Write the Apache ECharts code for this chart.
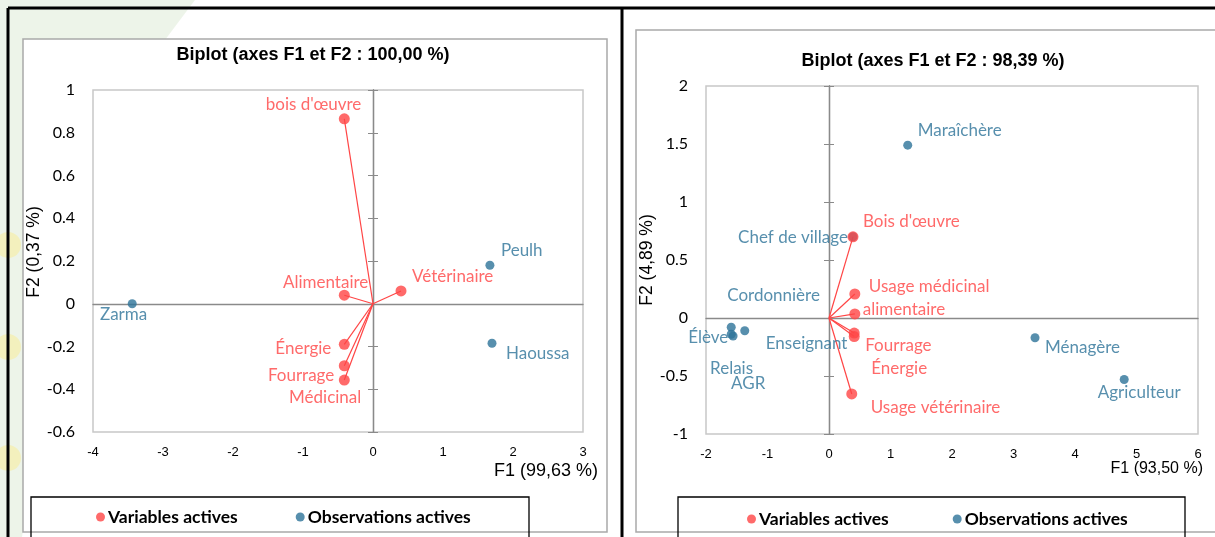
<!DOCTYPE html>
<html lang="fr">
<head>
<meta charset="UTF-8">
<title>Biplots</title>
<script src="https://cdn.jsdelivr.net/npm/echarts@6/dist/echarts.min.js"></script>
<style>
    html, body { margin: 0; padding: 0; background: #fff; }
    #main { width: 1215px; height: 537px; }
</style>
</head>
<body>
<div id="main"></div>
<script>
    // ---- left biplot: F1 99,63 % / F2 0,37 %
    var xTicksL = [-4, -3, -2, -1, 0, 1, 2, 3];
    var yTicksL = [-0.6, -0.4, -0.2, 0, 0.2, 0.4, 0.6, 0.8, 1];
    var varNamesL = ["bois d'œuvre", 'Alimentaire', 'Vétérinaire', 'Énergie', 'Fourrage', 'Médicinal'];
    var varF1L = [-0.41, -0.41, 0.40, -0.41, -0.41, -0.41];
    var varF2L = [0.865, 0.04, 0.06, -0.19, -0.29, -0.357];
    var obsNamesL = ['Zarma', 'Peulh', 'Haoussa'];
    var obsF1L = [-3.44, 1.67, 1.70];
    var obsF2L = [0.0, 0.18, -0.185];

    // ---- right biplot: F1 93,50 % / F2 4,89 %
    var xTicksR = [-2, -1, 0, 1, 2, 3, 4, 5, 6];
    var yTicksR = [-1, -0.5, 0, 0.5, 1, 1.5, 2];
    var varNamesR = ["Bois d'œuvre", 'Usage médicinal', 'alimentaire', 'Fourrage', 'Énergie', 'Usage vétérinaire'];
    var varF1R = [0.39, 0.42, 0.42, 0.41, 0.41, 0.37];
    var varF2R = [0.70, 0.207, 0.035, -0.13, -0.16, -0.655];
    var obsNamesR = ['Maraîchère', 'Chef de village', 'Cordonnière', 'Élève', 'Relais AGR', 'Enseignant', 'Ménagère', 'Agriculteur'];
    var obsF1R = [1.28, 0.39, -1.59, -1.59, -1.56, -1.37, 3.35, 4.80];
    var obsF2R = [1.49, 0.70, -0.08, -0.14, -0.155, -0.11, -0.17, -0.53];

    // label placement (align, dx, dy from the point centre), same order as names
    var placeVarL = [['right', 17, -14], ['right', 24, -13], ['left', 11, -14], ['right', -13, 4], ['right', -10, 10], ['right', 17, 17]];
    var placeObsL = [['right', 15, 11], ['left', 11, -15], ['left', 14, 10]];
    var placeVarR = [['left', 10, -15], ['left', 14, -7], ['left', 8, -4], ['left', 11, 12], ['left', 17, 32], ['left', 19, 14]];
    var placeObsR = [['left', 10, -15], ['right', -5, 1], ['left', -4, -32], ['right', -3, 3], ['left', -23, 40], ['left', 21, 13], ['left', 10, 10], ['center', 15, 13]];

    var RED = '#ff4545';
    var BLUE = '#2d7398';
    var labelFont = 'Lato, "Noto Sans", sans-serif';
    var arial = '"Liberation Sans", Arial, sans-serif';

    function points(names, xs, ys, place) {
        return names.map(function (n, i) {
            var p = place[i];
            var item = {name: n, value: [xs[i], ys[i]], label: {align: p[0], offset: [p[1], p[2]]}};
            if (n === 'Relais AGR') {
                item.label.formatter = 'Relais\n{p|AGR}';
                item.label.lineHeight = 15;
                item.label.rich = {p: {padding: [0, 0, 0, 21], lineHeight: 15}};
            }
            return item;
        });
    }

    function vectors(xs, ys) {
        return xs.map(function (x, i) {
            return {coords: [[0, 0], [x, ys[i]]]};
        });
    }

    function range(ticks) {
        return {min: ticks[0], max: ticks[ticks.length - 1], interval: ticks[1] - ticks[0]};
    }

    function tickText(v) {
        return String(Math.round(v * 100) / 100);
    }

    function xAxes(ticks, grid, name, gap, padTop, nameSize) {
        var r = range(ticks);
        return [
            {
                type: 'value', gridIndex: grid, min: r.min, max: r.max, interval: r.interval,
                splitLine: {show: false},
                axisLine: {show: false, onZero: false},
                axisTick: {show: false},
                axisLabel: {margin: 14, fontFamily: arial, fontSize: 13, color: '#000', formatter: tickText},
                name: name, nameLocation: 'end', nameGap: gap,
                nameTextStyle: {fontFamily: arial, fontSize: nameSize, color: '#000', align: 'right', verticalAlign: 'top', padding: [padTop, 0, 0, 0]}
            },
            {
                type: 'value', gridIndex: grid, min: r.min, max: r.max, interval: r.interval,
                splitLine: {show: false},
                axisLine: {show: true, onZero: true, lineStyle: {color: '#8a8a8a', width: 1.3}},
                axisTick: {show: false},
                axisLabel: {show: false}
            }
        ];
    }

    function yAxes(ticks, grid, name, gap, padLeft) {
        var r = range(ticks);
        var zero = {
            type: 'value', gridIndex: grid, min: r.min, max: r.max, interval: r.interval,
            position: 'left',
            splitLine: {show: false},
            axisLine: {show: true, onZero: true, lineStyle: {color: '#8a8a8a', width: 1.3}},
            axisLabel: {show: false}
        };
        return [
            {
                type: 'value', gridIndex: grid, min: r.min, max: r.max, interval: r.interval,
                position: 'left',
                splitLine: {show: false},
                axisLine: {show: false, onZero: false},
                axisTick: {show: false},
                axisLabel: {margin: 18, fontFamily: labelFont, fontSize: 16, color: '#000', formatter: tickText},
                name: name, nameLocation: 'middle', nameGap: gap,
                nameTextStyle: {fontFamily: arial, fontSize: 17.5, color: '#000', padding: [0, 0, 0, padLeft]}
            },
            Object.assign({}, zero, {axisTick: {show: true, inside: false, length: 5, lineStyle: {color: '#8a8a8a'}}}),
            Object.assign({}, zero, {axisTick: {show: true, inside: true, length: 5, lineStyle: {color: '#8a8a8a'}}})
        ];
    }

    function labelStyle(color) {
        return {show: true, position: 'inside', formatter: '{b}', verticalAlign: 'middle',
            fontFamily: labelFont, fontSize: 17, color: color};
    }

    function panelSeries(xi, yi, vx, vy, vn, vp, ox, oy, on, op) {
        return [
            {
                type: 'lines', coordinateSystem: 'cartesian2d', xAxisIndex: xi, yAxisIndex: yi,
                silent: true, z: 2,
                lineStyle: {color: RED, width: 1.2, opacity: 1},
                data: vectors(vx, vy)
            },
            {
                name: 'Observations actives', type: 'scatter', xAxisIndex: xi, yAxisIndex: yi,
                symbolSize: 9, z: 3, itemStyle: {color: BLUE},
                label: labelStyle(BLUE),
                data: points(on, ox, oy, op)
            },
            {
                name: 'Variables actives', type: 'scatter', xAxisIndex: xi, yAxisIndex: yi,
                symbolSize: 11, z: 4, itemStyle: {color: RED},
                label: labelStyle(RED),
                data: points(vn, vx, vy, vp)
            }
        ];
    }

    var legendBase = {
        data: ['Variables actives', 'Observations actives'],
        icon: 'circle', itemWidth: 9, itemHeight: 9, selectedMode: false,
        textStyle: {fontFamily: labelFont, fontWeight: 'bold', fontSize: 17.5, color: '#000', padding: [0, 0, 0, -2]}
    };

    var myChart = echarts.init(document.getElementById('main'), null, {renderer: 'canvas'});
    var option = {
        animation: false,
        backgroundColor: '#fff',
        title: [
            {text: 'Biplot (axes F1 et F2 : 100,00 %)', left: 313, top: 46, textAlign: 'center', padding: 0,
                textStyle: {fontFamily: arial, fontWeight: 'bold', fontSize: 18, color: '#000'}},
            {text: 'Biplot (axes F1 et F2 : 98,39 %)', left: 933, top: 52, textAlign: 'center', padding: 0,
                textStyle: {fontFamily: arial, fontWeight: 'bold', fontSize: 18, color: '#000'}}
        ],
        legend: [
            Object.assign({}, legendBase, {left: 91, top: 503, itemGap: 58}),
            Object.assign({}, legendBase, {left: 742, top: 505, itemGap: 64})
        ],
        grid: [
            {left: 93, top: 90, width: 490, height: 342, show: true, borderColor: '#c8c8c8', borderWidth: 1.5,
                backgroundColor: 'transparent', outerBoundsMode: 'none', containLabel: false},
            {left: 706, top: 86, width: 492, height: 348, show: true, borderColor: '#c8c8c8', borderWidth: 1.5,
                backgroundColor: 'transparent', outerBoundsMode: 'none', containLabel: false}
        ],
        xAxis: xAxes(xTicksL, 0, 'F1 (99,63 %)', 15, 30, 18).concat(xAxes(xTicksR, 1, 'F1 (93,50 %)', 5, 27, 16)),
        yAxis: yAxes(yTicksL, 0, 'F2 (0,37 %)', 48, 18).concat(yAxes(yTicksR, 1, 'F2 (4,89 %)', 38, 0)),
        series: panelSeries(0, 0, varF1L, varF2L, varNamesL, placeVarL, obsF1L, obsF2L, obsNamesL, placeObsL)
            .concat(panelSeries(2, 3, varF1R, varF2R, varNamesR, placeVarR, obsF1R, obsF2R, obsNamesR, placeObsR)),
        graphic: [
            // faint slide background showing at the left
            {type: 'polygon', z: -20, silent: true, shape: {points: [[0, 0], [195, 0], [150, 60], [60, 300], [22, 537], [0, 537]]},
                style: {fill: 'rgba(214,230,206,0.45)'}},
            {type: 'circle', z: -19, silent: true, shape: {cx: 8, cy: 245, r: 13}, style: {fill: 'rgba(245,238,170,0.7)'}},
            {type: 'circle', z: -19, silent: true, shape: {cx: 8, cy: 347, r: 13}, style: {fill: 'rgba(245,238,170,0.7)'}},
            {type: 'circle', z: -19, silent: true, shape: {cx: 8, cy: 458, r: 13}, style: {fill: 'rgba(245,238,170,0.7)'}},
            // chart boxes
            {type: 'rect', z: -10, silent: true, shape: {x: 23, y: 39, width: 584, height: 493},
                style: {fill: '#fff', stroke: '#a9a9a9', lineWidth: 1.5}},
            {type: 'rect', z: -10, silent: true, shape: {x: 636, y: 30, width: 600, height: 502},
                style: {fill: '#fff', stroke: '#a9a9a9', lineWidth: 1.5}},
            // legend boxes
            {type: 'rect', z: -9, silent: true, shape: {x: 31, y: 497, width: 498, height: 60},
                style: {fill: 'none', stroke: '#000', lineWidth: 1.3}},
            {type: 'rect', z: -9, silent: true, shape: {x: 678, y: 497, width: 507, height: 60},
                style: {fill: 'none', stroke: '#000', lineWidth: 1.3}},
            // black frame of the slide table
            {type: 'line', z: 50, silent: true, shape: {x1: 8, y1: 8, x2: 1215, y2: 8}, style: {stroke: '#000', lineWidth: 3}},
            {type: 'line', z: 50, silent: true, shape: {x1: 8, y1: 8, x2: 8, y2: 537}, style: {stroke: '#000', lineWidth: 3}},
            {type: 'line', z: 50, silent: true, shape: {x1: 622, y1: 8, x2: 622, y2: 537}, style: {stroke: '#000', lineWidth: 3}}
        ]
    };
    myChart.setOption(option);
</script>
</body>
</html>
